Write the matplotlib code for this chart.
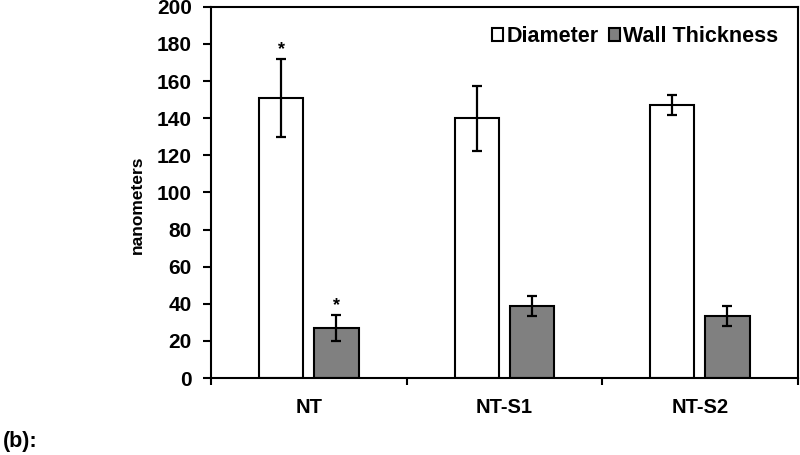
import numpy as np
import matplotlib
matplotlib.use('Agg')
from matplotlib import pyplot as plt

plt.rcParams['font.family'] = ['Liberation Sans', 'DejaVu Sans']
plt.rcParams['font.weight'] = 'bold'

categories = ['NT', 'NT-S1', 'NT-S2']
diameter = [151, 140, 147]
diameter_err = [21, 17.5, 5.3]
wall = [27, 39, 33.6]
wall_err = [7, 5.3, 5.4]
diameter_star = [True, False, False]
wall_star = [True, False, False]

fig = plt.figure(figsize=(8, 4.55), dpi=100)
ax = fig.add_axes([0.264, 0.169, 0.733, 0.816])

x = np.arange(len(categories))
w = 0.226
off = 0.141
ekw = dict(elinewidth=1.6, capthick=1.6, capsize=3.5, ecolor='black')
ax.bar(x - off, diameter, w, yerr=diameter_err, color='white', edgecolor='black',
       linewidth=1.5, error_kw=ekw, label='Diameter', zorder=2)
ax.bar(x + off, wall, w, yerr=wall_err, color='#808080', edgecolor='black',
       linewidth=1.5, error_kw=ekw, label='Wall Thickness', zorder=2)

for i in range(len(categories)):
    if diameter_star[i]:
        ax.text(x[i] - off, diameter[i] + diameter_err[i] + 0.5, '*', ha='center', va='bottom', fontsize=13)
    if wall_star[i]:
        ax.text(x[i] + off, wall[i] + wall_err[i] + 0.5, '*', ha='center', va='bottom', fontsize=13)

ax.set_xlim(-0.5, len(categories) - 0.5)
ax.set_ylim(0, 200)
ax.set_yticks(np.arange(0, 201, 20))
ax.set_xticks(x)
ax.set_xticklabels(categories, fontsize=14.5, fontweight='bold')
ax.set_xticks(np.arange(-0.5, len(categories), 1), minor=True)
ax.tick_params(axis='x', which='major', length=0, pad=14)
ax.tick_params(axis='x', which='minor', length=5, width=1.5, direction='out')
ax.tick_params(axis='y', length=6, width=1.5, direction='out', labelsize=15, pad=8)
for lab in ax.get_yticklabels():
    lab.set_fontweight('bold')
for s in ax.spines.values():
    s.set_linewidth(1.5)
ax.set_ylabel('nanometers', fontsize=12.5, fontweight='bold')
ax.yaxis.set_label_coords(-0.113, 0.466)

ax.legend(loc='upper right', frameon=False, fontsize=15.5, handlelength=0.5, handleheight=0.5,
          handletextpad=0.15, columnspacing=0.5, ncol=2, borderaxespad=0.5)

fig.text(0.003, 0.029, '(b):', fontsize=15.5, fontweight='bold', ha='left', va='center')

fig.savefig('out.png', dpi=100)
